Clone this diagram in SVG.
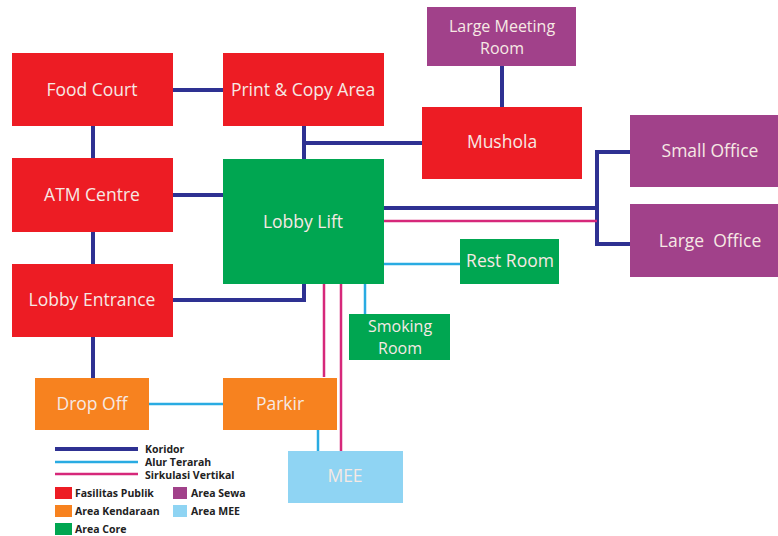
<svg xmlns="http://www.w3.org/2000/svg" width="778" height="536" viewBox="0 0 778 536">
<style>
.red{fill:#ED1C24}.grn{fill:#00A651}.pur{fill:#A1418A}.org{fill:#F7821F}.mee{fill:#8FD4F3}
.t{font-family:"Open Sans","Noto Sans",sans-serif;font-size:17.5px;fill:#F6E9E4;text-anchor:middle}
.t2{font-size:16px}
.lg{font-family:"Open Sans","Noto Sans",sans-serif;font-size:10.5px;font-weight:bold;fill:#222}
.kor{stroke:#2E3192;stroke-width:4;fill:none}
.alur{stroke:#29ABE2;stroke-width:2.5;fill:none}
.sirk{stroke:#D6287A;stroke-width:2.5;fill:none}
</style>
<rect width="778" height="536" fill="#fff"/>
<g id="connectors">
<path class="kor" d="M173 90H223M93 126V158M173 195H223M93 232V264M173 300H304V284M304 126V159M304 143H422M502 66V107M384 208H597M630 152H597V244H630M93 337V378"/>
<path class="alur" d="M384 264H460M365 284V314M149 404H223M318 430V451"/>
<path class="sirk" d="M384 221H597M324 284V377M341 284V451"/>
</g>
<g id="food-court"><rect class="red" x="12" y="53" width="161" height="73"/><text class="t" x="92" y="96">Food Court</text></g>
<g id="print-copy"><rect class="red" x="223" y="53" width="161" height="73"/><text class="t" x="303" y="96">Print &amp; Copy Area</text></g>
<g id="atm-centre"><rect class="red" x="12" y="158" width="161" height="74"/><text class="t" x="92" y="201">ATM Centre</text></g>
<g id="lobby-lift"><rect class="grn" x="223" y="159" width="161" height="125"/><text class="t" x="303" y="228">Lobby Lift</text></g>
<g id="lobby-entrance"><rect class="red" x="12" y="264" width="161" height="73"/><text class="t" x="92" y="306">Lobby Entrance</text></g>
<g id="large-meeting-room"><rect class="pur" x="427" y="7" width="149" height="59"/><text class="t t2" x="502" y="32">Large Meeting</text><text class="t t2" x="502" y="54">Room</text></g>
<g id="mushola"><rect class="red" x="422" y="107" width="160" height="72"/><text class="t" x="502" y="148">Mushola</text></g>
<g id="small-office"><rect class="pur" x="630" y="115" width="148" height="72"/><text class="t" x="710" y="157">Small Office</text></g>
<g id="large-office"><rect class="pur" x="630" y="204" width="148" height="73"/><text class="t" x="710" y="247" style="white-space:pre">Large  Office</text></g>
<g id="rest-room"><rect class="grn" x="460" y="239" width="99" height="45"/><text class="t" x="510" y="267">Rest Room</text></g>
<g id="smoking-room"><rect class="grn" x="349" y="314" width="101" height="46"/><text class="t t2" x="400" y="332">Smoking</text><text class="t t2" x="400" y="354">Room</text></g>
<g id="drop-off"><rect class="org" x="35" y="378" width="114" height="52"/><text class="t" x="92" y="410">Drop Off</text></g>
<g id="parkir"><rect class="org" x="223" y="378" width="114" height="52"/><text class="t" x="280" y="410">Parkir</text></g>
<g id="mee"><rect class="mee" x="288" y="451" width="115" height="52"/><text class="t" x="345" y="482">MEE</text></g>
<g id="legend">
<path class="kor" d="M55 449H138" stroke-width="3"/>
<path class="alur" d="M55 462H138" stroke-width="2"/>
<path class="sirk" d="M55 474H138" stroke-width="2"/>
<text class="lg" x="145" y="453">Koridor</text>
<text class="lg" x="145" y="466">Alur Terarah</text>
<text class="lg" x="145" y="479">Sirkulasi Vertikal</text>
<rect class="red" x="55" y="487" width="17" height="12"/><text class="lg" x="75" y="497">Fasilitas Publik</text>
<rect class="pur" x="173" y="487" width="14" height="12"/><text class="lg" x="191" y="497">Area Sewa</text>
<rect class="org" x="55" y="505" width="17" height="12"/><text class="lg" x="75" y="515">Area Kendaraan</text>
<rect class="mee" x="173" y="505" width="14" height="12"/><text class="lg" x="191" y="515">Area MEE</text>
<rect class="grn" x="55" y="523" width="17" height="12"/><text class="lg" x="75" y="533">Area Core</text>
</g>
</svg>
